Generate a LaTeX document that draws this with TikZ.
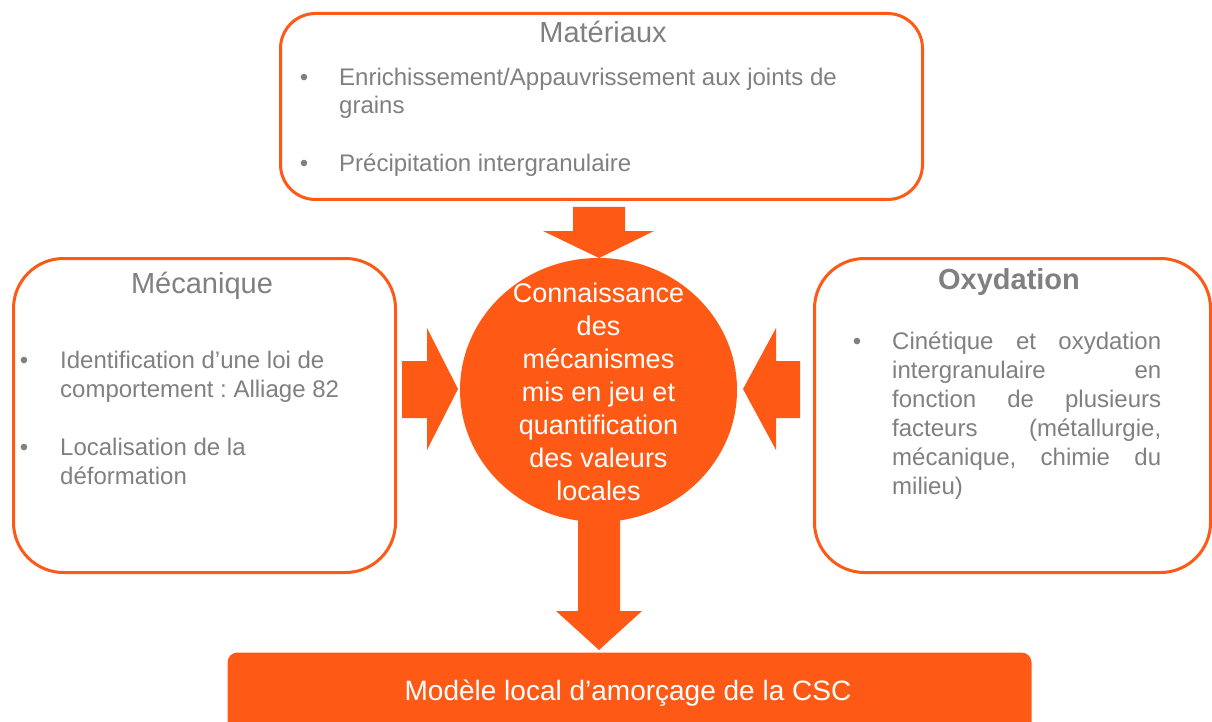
\documentclass[tikz,border=0pt]{standalone}
\usepackage{fontspec}
\setmainfont{Liberation Sans}
\usetikzlibrary{shapes.geometric}
\definecolor{org}{RGB}{254,90,22}
\definecolor{gtxt}{RGB}{128,128,128}
\frenchspacing
\begin{document}
\begin{tikzpicture}[x=1pt,y=-1pt,
  box/.style={draw=org, line width=3pt, fill=white, inner sep=0pt, anchor=north west},
  body/.style={text=gtxt, font=\fontsize{24}{29}\selectfont, inner sep=0pt, anchor=base west},
  bul/.style={text=gtxt, font=\fontsize{24}{29}\selectfont, inner sep=0pt, anchor=base},
  ttl/.style={text=gtxt, font=\fontsize{29}{34}\selectfont, inner sep=0pt, anchor=base},
  ctext/.style={text=white, font=\fontsize{27}{33}\selectfont, inner sep=0pt, anchor=base},
  blockarrow/.style={fill=org, draw=none}]
\useasboundingbox (0,0) rectangle (1212,722);

% boxes
\node[box, rounded corners=35pt, minimum width=642pt, minimum height=186pt] (mat) at (279,12) {};
\node[box, rounded corners=50pt, minimum width=382pt, minimum height=314pt] (mec) at (12,257) {};
\node[box, rounded corners=50pt, minimum width=396pt, minimum height=314pt] (oxy) at (813,257) {};
\node[box, draw=none, fill=org, rounded corners=10pt, minimum width=804pt, minimum height=80pt] (mod) at (226,651) {};

% block arrows
\path[blockarrow] (573,207) -- (625,207) -- (625,231) -- (654,231) -- (599,258) -- (543,231) -- (573,231) -- cycle;
\path[blockarrow] (402,361) -- (427,361) -- (427,328) -- (458,389) -- (427,450) -- (427,418) -- (402,418) -- cycle;
\path[blockarrow] (800,361) -- (776,361) -- (776,328) -- (743,389) -- (776,450) -- (776,418) -- (800,418) -- cycle;
\path[blockarrow] (578,515) -- (620,515) -- (620,611) -- (642,611) -- (599,650) -- (556,611) -- (578,611) -- cycle;

% central ellipse
\node[ellipse, fill=org, inner sep=0pt, minimum width=277pt, minimum height=264pt] (cnx) at (598.5,390) {};
\foreach \t [count=\i] in {Connaissance,des,mécanismes,mis en jeu et,quantification,des valeurs,locales}
  \node[ctext] (c\i) at (598.5,{302+33*(\i-1)}) {\t};

% Matériaux
\node[ttl] (matT) at (603,43) {Matériaux};
\node[bul] (mb1) at (304,86) {•};
\node[body] (m1) at (339,86) {Enrichissement/Appauvrissement aux joints de};
\node[body] (m2) at (339,114) {grains};
\node[bul] (mb2) at (304,172) {•};
\node[body] (m3) at (339,172) {Précipitation intergranulaire};

% Mécanique
\node[ttl] (mecT) at (202,293) {Mécanique};
\node[bul] (eb1) at (24,368) {•};
\node[body] (e1) at (60,368) {Identification d’une loi de};
\node[body] (e2) at (60,397) {comportement : Alliage 82};
\node[bul] (eb2) at (24,455) {•};
\node[body] (e3) at (60,455) {Localisation de la};
\node[body] (e4) at (60,484) {déformation};

% Oxydation
\node[ttl, font=\fontsize{29}{34}\selectfont\bfseries] (oxyT) at (1009,289) {Oxydation};
\node[bul] (ob1) at (857,349) {•};
\node[body] (o1) at (892,349) {\hbox to 269pt{Cinétique\hfill et\hfill oxydation}};
\node[body] (o2) at (892,378) {\hbox to 269pt{intergranulaire\hfill en}};
\node[body] (o3) at (892,407) {\hbox to 269pt{fonction\hfill de\hfill plusieurs}};
\node[body] (o4) at (892,436) {\hbox to 269pt{facteurs\hfill (métallurgie,}};
\node[body] (o5) at (892,465) {\hbox to 269pt{mécanique,\hfill chimie\hfill du}};
\node[body] (o6) at (892,494) {milieu)};

% bottom text
\node[text=white, font=\fontsize{28}{34}\selectfont, inner sep=0pt, anchor=base] (modT) at (628,700) {Modèle local d’amorçage de la CSC};
\end{tikzpicture}
\end{document}
